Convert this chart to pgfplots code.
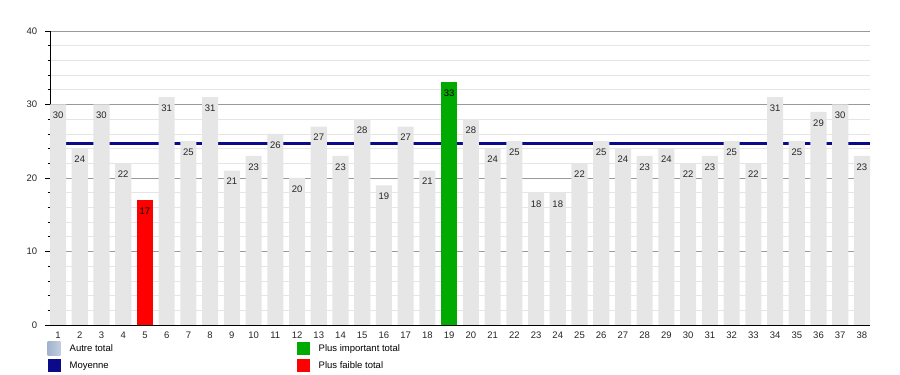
\documentclass[border=0pt]{standalone}
\usepackage{pgfplots}
\pgfplotsset{compat=1.18}
\usepackage{fontspec}
\setmainfont{Liberation Sans}
\definecolor{bargrey}{HTML}{E6E6E6}
\definecolor{navyline}{HTML}{0A0A8A}
\definecolor{topgreen}{HTML}{00AA00}
\definecolor{lowred}{HTML}{FF0000}
\definecolor{autreA}{HTML}{A3B3CE}
\definecolor{autreB}{HTML}{C2CDE0}
\begin{document}
\fontsize{9.5bp}{11bp}\selectfont
\begin{tikzpicture}
\useasboundingbox (0,0) rectangle (900bp,375bp);
\begin{axis}[
  at={(50bp,50bp)}, anchor=south west,
  scale only axis, width=820bp, height=294bp,
  xmin=0.63, xmax=38.37, ymin=0, ymax=40,
  axis x line=bottom, axis y line=left,
  axis line style={-, black, line width=0.8bp},
  xtick={1,...,38}, ytick={0,10,20,30,40},
  minor y tick num=4,
  tick align=outside,
  major tick length=5bp, minor tick length=2.5bp,
  x tick style={draw=none},
  y tick style={black, line width=0.6bp},
  ymajorgrids, yminorgrids,
  major grid style={color=black!40, line width=0.7bp},
  minor grid style={color=black!10, line width=0.7bp},
  tick label style={font=\fontsize{9.5bp}{11bp}\selectfont, text=black!85},
  xticklabel style={yshift=1.5bp},
  yticklabel style={xshift=-4.5bp},
  /pgf/number format/assume math mode=true,
  legend columns=2,
  legend cell align=left,
  legend style={draw=none, fill=none, at={(0,0)}, anchor=north west,
    xshift=-2.3bp, yshift=-17bp, inner sep=0pt, outer sep=0pt,
    row sep=4bp, nodes={inner sep=0pt},
    /tikz/every odd column/.append style={column sep=9bp},
    font=\fontsize{9.5bp}{11bp}\selectfont},
]
% mean line (drawn behind the bars)
\addplot[navyline, line width=3.2bp, forget plot] coordinates {(0.63,24.71) (38.37,24.71)};
% other totals
\addplot[ybar, bar width=0.74, bar shift=0pt, fill=bargrey, draw=none, forget plot,
  nodes near coords,
  nodes near coords style={anchor=north, yshift=-7.5bp, inner sep=0pt, text=black!85,
    font=\fontsize{9.5bp}{11bp}\selectfont}]
coordinates {
(1,30) (2,24) (3,30) (4,22) (6,31) (7,25) (8,31) (9,21) (10,23)
(11,26) (12,20) (13,27) (14,23) (15,28) (16,19) (17,27) (18,21) (20,28)
(21,24) (22,25) (23,18) (24,18) (25,22) (26,25) (27,24) (28,23) (29,24) (30,22)
(31,23) (32,25) (33,22) (34,31) (35,25) (36,29) (37,30) (38,23)
};
% lowest total
\addplot[ybar, bar width=0.74, bar shift=0pt, fill=lowred, draw=none, forget plot,
  nodes near coords,
  nodes near coords style={anchor=north, yshift=-7.5bp, inner sep=0pt, text=black,
    font=\fontsize{9.5bp}{11bp}\selectfont}]
coordinates {(5,17)};
% highest total
\addplot[ybar, bar width=0.74, bar shift=0pt, fill=topgreen, draw=none, forget plot,
  nodes near coords,
  nodes near coords style={anchor=north, yshift=-7.5bp, inner sep=0pt, text=black,
    font=\fontsize{9.5bp}{11bp}\selectfont}]
coordinates {(19,33)};
% legend
\addlegendimage{legend image code/.code={\path[draw=none, left color=autreA, right color=autreB] (0bp,-6.5bp) rectangle (13bp,6.5bp);}}
\addlegendentry{\makebox[227bp][l]{Autre total}}
\addlegendimage{legend image code/.code={\path[draw=none, fill=topgreen] (0bp,-6.5bp) rectangle (13bp,6.5bp);}}
\addlegendentry{Plus important total}
\addlegendimage{legend image code/.code={\path[draw=none, fill=navyline] (0bp,-6.5bp) rectangle (13bp,6.5bp);}}
\addlegendentry{\makebox[227bp][l]{Moyenne}}
\addlegendimage{legend image code/.code={\path[draw=none, fill=lowred] (0bp,-6.5bp) rectangle (13bp,6.5bp);}}
\addlegendentry{Plus faible total}
\end{axis}
\end{tikzpicture}
\end{document}
